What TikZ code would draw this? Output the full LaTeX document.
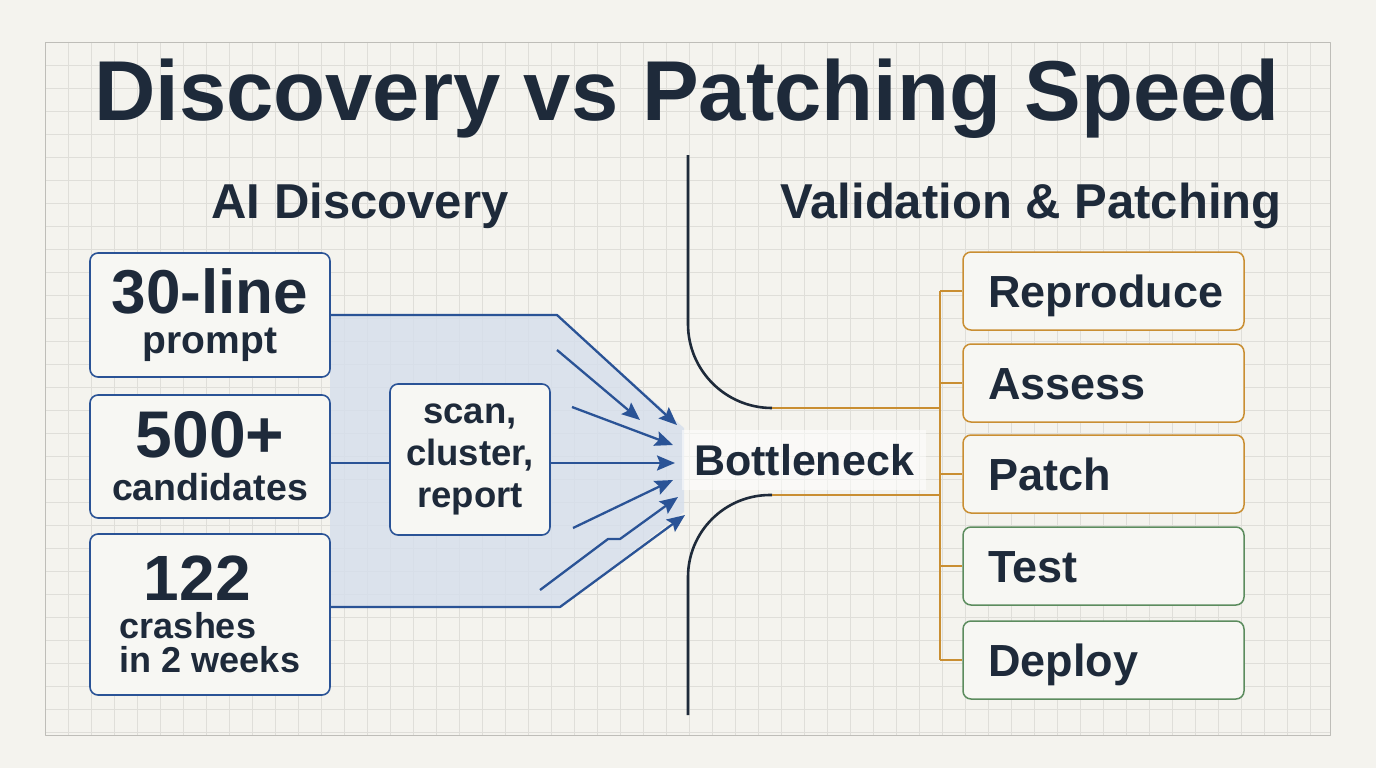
\documentclass[tikz,border=0pt]{standalone}
\usepackage{fontspec}
\setmainfont{Liberation Sans}
\usetikzlibrary{arrows.meta, calc}
\definecolor{paper}{HTML}{F4F3EE}
\definecolor{gridgray}{HTML}{DFDED9}
\definecolor{ink}{HTML}{1E2A3A}
\definecolor{flowblue}{HTML}{2A5396}
\definecolor{funnelblue}{HTML}{D5DEEC}
\definecolor{stepamber}{HTML}{C98E32}
\definecolor{stepgreen}{HTML}{5C8C5E}
\definecolor{boxfill}{HTML}{F7F7F3}
\tikzset{
	gridline/.style = {draw = gridgray, line width = 0.8pt},
	headtext/.style = {text = ink, font = \bfseries\fontsize{49}{52}\selectfont, anchor = base},
	srcbox/.style = {draw = flowblue, line width = 1.6pt, rounded corners = 8pt, fill = boxfill, text = ink, minimum width = 240pt, inner sep = 0pt},
	flowline/.style = {draw = flowblue, line width = 2.3pt},
	flowarrow/.style = {flowline, -{Stealth[length = 18pt, width = 15pt, inset = 3pt]}},
	stepbox/.style = {line width = 1.5pt, rounded corners = 8pt, fill = boxfill, text = ink, font = \bfseries\fontsize{45}{48}\selectfont, text width = 231pt, inner xsep = 25pt, align = left, minimum height = 78pt, text height = 32pt, text depth = 0pt},
	busline/.style = {draw = stepamber, line width = 2.2pt},
	divider/.style = {draw = ink, line width = 2.6pt}
}
\begin{document}
\begin{tikzpicture}[x = 1pt, y = -1pt, line join = round]
	\fill[paper] (0, 0) rectangle (1376, 768);
	\foreach \gx in {45, 68, ..., 1330}
		\draw[gridline] (\gx, 42) -- (\gx, 735);
	\foreach \gy in {42, 65, ..., 735}
		\draw[gridline] (45, \gy) -- (1330, \gy);
	\draw[gridline, draw = gridgray!85!black] (45, 42) rectangle (1330, 735);

	\fill[funnelblue, opacity = 0.8] (330, 315) -- (557, 315) -- (684, 428) -- (684, 512) -- (560, 607) -- (330, 607) -- cycle;

	\node[headtext, font = \bfseries\fontsize{85}{90}\selectfont] (title) at (687, 121) {Discovery vs Patching Speed};
	\node[headtext] (aihead) at (360, 218) {AI Discovery};
	\node[headtext] (valhead) at (1031, 218) {Validation \& Patching};

	\node[srcbox, minimum height = 124pt, align = center, font = \bfseries\fontsize{39}{40}\selectfont] (prompt) at (210, 315) {{\fontsize{62}{62}\selectfont 30-line}\\prompt};
	\node[srcbox, minimum height = 123pt, align = center, font = \bfseries\fontsize{37.5}{43}\selectfont] (cand) at (210, 456.5) {{\fontsize{66}{66}\selectfont 500+}\\candidates};
	\node[srcbox, minimum height = 161pt, align = left, font = \bfseries\fontsize{36}{34}\selectfont] (crashes) at (210, 614.5) {\hspace*{24pt}{\fontsize{64}{64}\selectfont 122}\\[4pt]crashes\\in 2 weeks};
	\node[srcbox, minimum width = 160pt, minimum height = 151pt, align = center, font = \bfseries\fontsize{36.5}{42}\selectfont] (scan) at (470, 459.5) {scan,\\cluster,\\report};

	\node[text = ink, font = \bfseries\fontsize{43}{46}\selectfont, fill = white, fill opacity = 0.55, text opacity = 1, inner xsep = 12pt, inner ysep = 14pt] (neck) at (804, 460) {Bottleneck};

	\coordinate (topbend) at (557, 315);
	\coordinate (toptip) at (677, 425);
	\coordinate (lowbend) at (560, 607);
	\coordinate (lowtip) at (685, 515);
	\coordinate (midline) at (0, 463);
	\coordinate (midtip) at (675, 463);
	\draw[flowarrow] (prompt.east) -- (topbend) -- (toptip);
	\draw[flowarrow] ([yshift = 7.5pt]crashes.east) -- (lowbend) -- (lowtip);
	\draw[flowline] (cand.east |- midline) -- (scan.west |- midline);
	\draw[flowarrow] (scan.east |- midline) -- (midtip);
	\draw[flowarrow] (557, 350) -- (640, 420);
	\draw[flowarrow] (572, 407) -- (673, 445);
	\draw[flowarrow] (573, 528) -- (673, 480);
	\draw[flowarrow] (540, 590) -- (608, 539) -- (620, 539) -- (678, 497);

	\coordinate (neckin) at (772, 408);
	\coordinate (neckout) at (772, 495);
	\coordinate (divtop) at (688, 155);
	\coordinate (divbot) at (688, 715);
	\draw[divider, rounded corners = 84pt] (divtop) -- (divtop |- neckin) -- (neckin);
	\draw[divider, rounded corners = 82pt] (neckout) -- (divbot |- neckout) -- (divbot);

	\node[stepbox, draw = stepamber] (repro) at (1103.5, 291) {Reproduce};
	\node[stepbox, draw = stepamber] (assess) at (1103.5, 383) {Assess};
	\node[stepbox, draw = stepamber] (patch) at (1103.5, 474) {Patch};
	\node[stepbox, draw = stepgreen] (test) at (1103.5, 566) {Test};
	\node[stepbox, draw = stepgreen] (deploy) at (1103.5, 660) {Deploy};

	\coordinate (bustop) at (940, 291);
	\coordinate (busbot) at (940, 660);
	\draw[busline] (bustop) -- (busbot);
	\foreach \s in {repro, assess, patch, test, deploy}
		\draw[busline] (\s.west) -- (\s.west -| bustop);
	\draw[busline] (neckin) -- (neckin -| bustop);
	\draw[busline] (neckout) -- (neckout -| bustop);
\end{tikzpicture}
\end{document}
